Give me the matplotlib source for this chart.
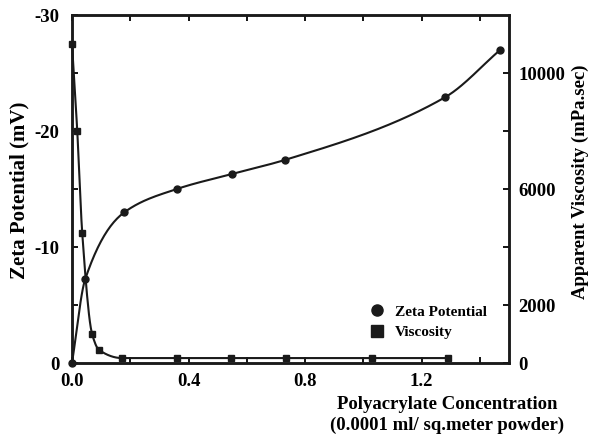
import numpy as np
import matplotlib
matplotlib.use("Agg")
import matplotlib.pyplot as plt
from matplotlib.lines import Line2D
from matplotlib.ticker import MultipleLocator, FixedLocator, FixedFormatter

plt.rcParams['font.family'] = ['Liberation Serif', 'DejaVu Serif']
plt.rcParams['font.weight'] = 'bold'

# data
zeta_conc = [0.0, 0.045, 0.18, 0.36, 0.55, 0.73, 1.28, 1.47]
zeta_mv = [0.0, -7.2, -13.0, -15.0, -16.3, -17.5, -22.9, -27.0]

visc_conc = [0.0, 0.018, 0.035, 0.069, 0.093, 0.172, 0.36, 0.547, 0.736, 1.03, 1.29]
visc_mpas = [11000, 8000, 4500, 1000, 450, 170, 170, 170, 170, 170, 170]

INK = '#1a1a1a'
W, H = 589, 436


def pchip(x, y, n=400):
    # monotone cubic curve through the points, only for drawing the line
    x = np.asarray(x, float)
    y = np.asarray(y, float)
    h = np.diff(x)
    d = np.diff(y) / h
    m = np.zeros_like(y)
    for k in range(1, len(x) - 1):
        if d[k - 1] * d[k] > 0:
            w1 = 2 * h[k] + h[k - 1]
            w2 = h[k] + 2 * h[k - 1]
            m[k] = (w1 + w2) / (w1 / d[k - 1] + w2 / d[k])
    m[0] = d[0]
    m[-1] = d[-1]
    xs = np.linspace(x[0], x[-1], n)
    idx = np.clip(np.searchsorted(x, xs) - 1, 0, len(x) - 2)
    t = (xs - x[idx]) / h[idx]
    h00 = 2 * t**3 - 3 * t**2 + 1
    h10 = t**3 - 2 * t**2 + t
    h01 = -2 * t**3 + 3 * t**2
    h11 = t**3 - t**2
    ys = h00 * y[idx] + h10 * h[idx] * m[idx] + h01 * y[idx + 1] + h11 * h[idx] * m[idx + 1]
    return xs, ys


fig = plt.figure(figsize=(5.89, 4.36), dpi=100)
ax = fig.add_axes([72 / W, 1 - 363 / H, 437 / W, 348 / H])
ax2 = ax.twinx()

# zeta potential
xs, ys = pchip(zeta_conc, zeta_mv)
ax.plot(xs, ys, color=INK, lw=1.5, clip_on=False)
ax.plot(zeta_conc, zeta_mv, 'o', color=INK, ms=5, clip_on=False)

# viscosity
xs, ys = pchip(visc_conc, visc_mpas)
ax2.plot(xs, ys, color=INK, lw=1.5, clip_on=False)
ax2.plot(visc_conc, visc_mpas, 's', color=INK, ms=4.5, clip_on=False)

ax.set_xlim(0, 1.5)
ax.set_ylim(0, -30)
ax2.set_ylim(0, 12000)

ax.xaxis.set_major_locator(MultipleLocator(0.4))
ax.xaxis.set_minor_locator(MultipleLocator(0.2))
ax.xaxis.set_major_formatter(plt.FuncFormatter(lambda v, p: f"{v:.1f}"))
ax.yaxis.set_major_locator(MultipleLocator(10))
ax.yaxis.set_minor_locator(MultipleLocator(5))
ax.yaxis.set_major_formatter(plt.FuncFormatter(lambda v, p: f"{v:.0f}"))

r_ticks = [0, 2000, 4000, 6000, 8000, 10000]
r_labels = ['0', '2000', '', '6000', '', '10000']
ax2.yaxis.set_major_locator(FixedLocator(r_ticks))
ax2.yaxis.set_major_formatter(FixedFormatter(r_labels))

ax.tick_params(axis='both', which='both', direction='in', width=1.3, length=4,
               labelsize=13.5, top=True, right=False)
ax.tick_params(axis='x', pad=7)
ax.tick_params(axis='y', pad=9)
ax2.tick_params(axis='y', direction='in', width=1.3, length=4, labelsize=13.5, pad=7)

for a in (ax, ax2):
    for s in a.spines.values():
        s.set_linewidth(1.8)
        s.set_color(INK)

fig.text(19 / W, 1 - 190 / H, 'Zeta Potential (mV)', rotation=90,
         ha='center', va='center', fontsize=15, fontweight='bold')
fig.text(580 / W, 1 - 182 / H, 'Apparent Viscosity (mPa.sec)', rotation=90,
         ha='center', va='center', fontsize=13.5, fontweight='bold')
fig.text(447 / W, 1 - 415 / H,
         'Polyacrylate Concentration\n(0.0001 ml/ sq.meter powder)',
         ha='center', va='center', fontsize=13.5, fontweight='bold', linespacing=1.25)

handles = [Line2D([], [], ls='none', marker='o', color=INK, ms=8),
           Line2D([], [], ls='none', marker='s', color=INK, ms=8)]
ax.legend(handles, ['Zeta Potential', 'Viscosity'], frameon=False,
          loc='upper left', bbox_to_anchor=(369 / W, 1 - 305 / H),
          bbox_transform=fig.transFigure, fontsize=11, handlelength=1.0,
          handletextpad=0.67, borderpad=0, borderaxespad=0, labelspacing=0.45)

fig.savefig('out.png', dpi=100)
